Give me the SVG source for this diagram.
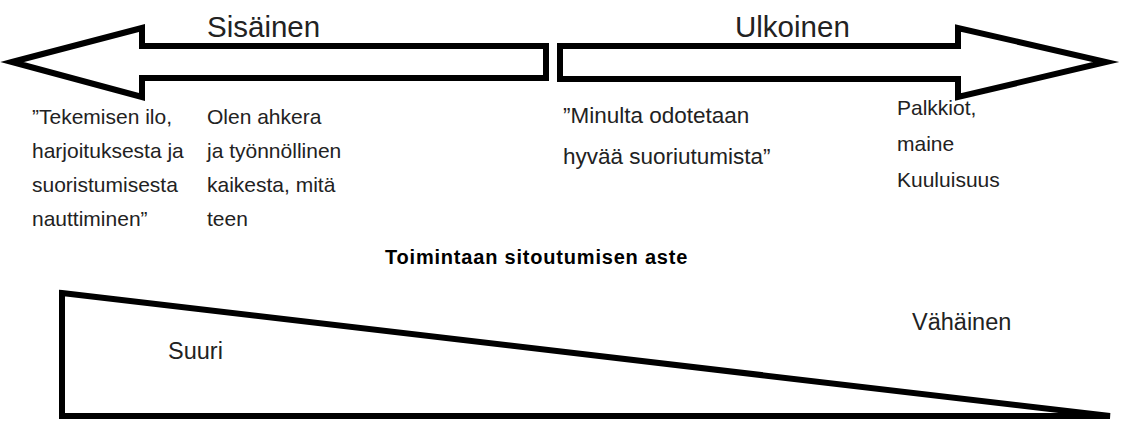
<svg xmlns="http://www.w3.org/2000/svg" width="1140" height="422" viewBox="0 0 1140 422">
<style>
.shape{fill:#fff;stroke:#000;stroke-width:6;stroke-linejoin:miter;stroke-miterlimit:10}
text{font-family:"Liberation Sans",Arial,sans-serif;fill:#222}
.hd{font-size:29.5px}
.bd{font-size:21px}
.md{font-size:22.5px}
.lg{font-size:23.5px}
.tt{font-size:20px;font-weight:bold;fill:#000;letter-spacing:0.8px}
</style>
<rect width="1140" height="422" fill="#fff"/>
<g id="arrow-sisainen">
<polygon class="shape" points="12,62 142,28 142,46 546,46 546,78 142,78 142,97"/>
<text class="hd" x="207" y="37">Sisäinen</text>
</g>
<g id="arrow-ulkoinen">
<polygon class="shape" points="560,46 958,46 958,28 1106,62 958,97 958,79 560,79"/>
<text class="hd" x="735" y="37">Ulkoinen</text>
</g>
<g id="text-tekemisen">
<text class="bd" x="32" y="124">”Tekemisen ilo,</text>
<text class="bd" x="32" y="158">harjoituksesta ja</text>
<text class="bd" x="32" y="192">suoristumisesta</text>
<text class="bd" x="32" y="226">nauttiminen”</text>
</g>
<g id="text-olen">
<text class="bd" x="207" y="124">Olen ahkera</text>
<text class="bd" x="207" y="158">ja työnnöllinen</text>
<text class="bd" x="207" y="192">kaikesta, mitä</text>
<text class="bd" x="207" y="226">teen</text>
</g>
<g id="text-minulta">
<text class="md" x="563" y="123">”Minulta odotetaan</text>
<text class="md" x="563" y="164">hyvää suoriutumista”</text>
</g>
<g id="text-palkkiot">
<text class="bd" x="897" y="115">Palkkiot,</text>
<text class="bd" x="897" y="151">maine</text>
<text class="bd" x="897" y="187">Kuuluisuus</text>
</g>
<g id="title">
<text class="tt" x="385" y="264">Toimintaan sitoutumisen aste</text>
</g>
<g id="wedge">
<polygon class="shape" points="62,293 1110,416 62,416"/>
<text class="lg" x="168" y="359">Suuri</text>
<text class="lg" x="912" y="330">Vähäinen</text>
</g>
</svg>
